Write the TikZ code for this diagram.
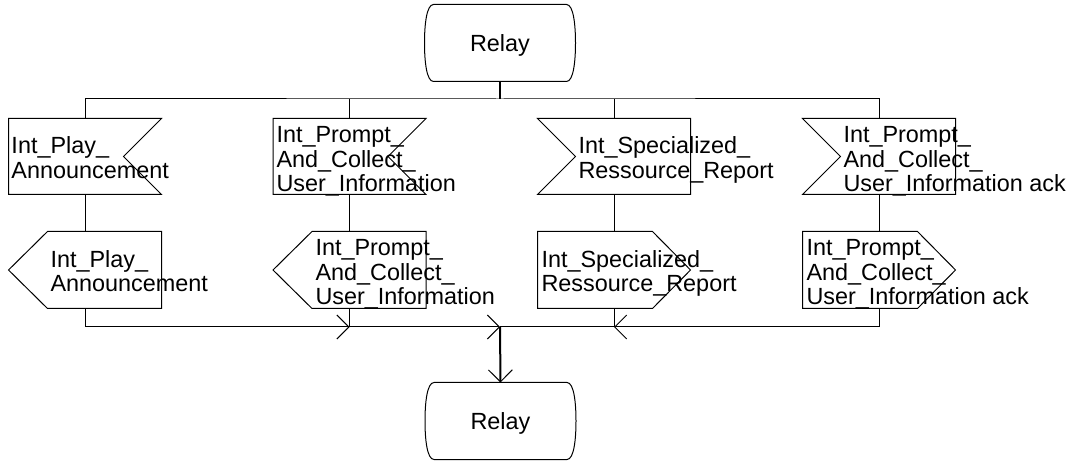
\documentclass[tikz,border=0pt]{standalone}
\usepackage{fontspec}
\setmainfont{Liberation Sans}
\usetikzlibrary{arrows.meta,calc}
\newcommand\sigfont{\fontsize{23.4pt}{24.5pt}\selectfont}
\newcommand\relayoutline[1]{%
  \draw ([xshift=9pt]#1.north west) -- ([xshift=-9pt]#1.north east)
    .. controls ([xshift=-2pt]#1.north east) and ([yshift=18pt]#1.east) .. (#1.east)
    .. controls ([yshift=-18pt]#1.east) and ([xshift=-2pt]#1.south east) .. ([xshift=-9pt]#1.south east)
    -- ([xshift=9pt]#1.south west)
    .. controls ([xshift=2pt]#1.south west) and ([yshift=-18pt]#1.west) .. (#1.west)
    .. controls ([yshift=18pt]#1.west) and ([xshift=2pt]#1.north west) .. ([xshift=9pt]#1.north west)
    -- cycle;}
\newcommand\notchright[1]{\draw (#1.north west) -- (#1.north east) -- ([xshift=-38pt]#1.east) -- (#1.south east) -- (#1.south west) -- cycle;}
\newcommand\notchleft[1]{\draw (#1.north west) -- (#1.north east) -- (#1.south east) -- (#1.south west) -- ([xshift=38pt]#1.west) -- cycle;}
\newcommand\pointleft[1]{\draw ([xshift=39pt]#1.north west) -- (#1.north east) -- (#1.south east) -- ([xshift=39pt]#1.south west) -- (#1.west) -- cycle;}
\newcommand\pointright[1]{\draw (#1.north west) -- ([xshift=-38pt]#1.north east) -- (#1.east) -- ([xshift=-38pt]#1.south east) -- (#1.south west) -- cycle;}
\begin{document}
\begin{tikzpicture}[x=1pt,y=-1pt, line width=1pt,
  sigbox/.style={draw=none, rectangle, inner sep=0pt, minimum width=152pt},
  inbox/.style={sigbox, minimum height=75pt},
  outbox/.style={sigbox, minimum height=76pt},
  relaybox/.style={draw=none, rectangle, inner sep=0pt, minimum width=150pt, minimum height=76pt},
  lbl/.style={anchor=base west, inner sep=0pt, align=left, font=\sigfont},
  rlbl/.style={anchor=base, inner sep=0pt, font=\sigfont},
  tip/.style={-{Straight Barb[length=12pt,width=24pt,line width=1pt]}},
  thickline/.style={line width=2pt}
]
\useasboundingbox (0,0) rectangle (1077,462);

% relays
\node[relaybox] (r1) at (500,43) {};
\node[relaybox] (r2) at (500.5,421) {};
\relayoutline{r1}
\relayoutline{r2}
\node[rlbl] (r1t) at ($(r1.center)+(0,8.5)$) {Relay};
\node[rlbl] (r2t) at ($(r2.center)+(0,8.5)$) {Relay};

% input signals
\node[inbox] (in1) at (85,156.5) {};
\node[inbox] (in2) at (349.5,156.5) {};
\node[inbox] (in3) at (614,156.5) {};
\node[inbox] (in4) at (879,156.5) {};
\notchright{in1}
\notchright{in2}
\notchleft{in3}
\notchleft{in4}

% output signals
\node[outbox] (out1) at (85,270) {};
\node[outbox] (out2) at (349.5,270) {};
\node[outbox] (out3) at (614,270) {};
\node[outbox] (out4) at (879,270) {};
\pointleft{out1}
\pointleft{out2}
\pointright{out3}
\pointright{out4}

% labels (anchored at the baseline of their last line)
\node[lbl] (t1) at (11,178.5) {Int\_Play\_\\Announcement};
\node[lbl] (t2) at (276,192) {Int\_Prompt\_\\And\_Collect\_\\User\_Information};
\node[lbl] (t3) at (578,178.5) {Int\_Specialized\_\\Ressource\_Report};
\node[lbl] (t4) at (843,192) {Int\_Prompt\_\\And\_Collect\_\\User\_Information ack};
\node[lbl] (u1) at (50,292) {Int\_Play\_\\Announcement};
\node[lbl] (u2) at (315,305) {Int\_Prompt\_\\And\_Collect\_\\User\_Information};
\node[lbl] (u3) at (541,292) {Int\_Specialized\_\\Ressource\_Report};
\node[lbl] (u4) at (806,305) {Int\_Prompt\_\\And\_Collect\_\\User\_Information ack};

% connectors
\coordinate (topbus) at (500,99);
\coordinate (botbus) at (500,327);
\draw[thickline] (r1.south) -- (topbus);
\draw (in1.north) |- (topbus) -| (in4.north);
\draw (in2.north) -- (in2.north |- topbus);
\draw (in3.north) -- (in3.north |- topbus);
\draw (in1.south) -- (out1.north);
\draw (in2.south) -- (out2.north);
\draw (in3.south) -- (out3.north);
\draw (in4.south) -- (out4.north);
\draw[tip] (out1.south) |- (out2.south |- botbus);
\draw (out2.south) -- (out2.south |- botbus);
\draw[tip] (out2.south |- botbus) -- (botbus);
\draw[tip] (out4.south) |- (out3.south |- botbus);
\draw (out3.south) -- (out3.south |- botbus);
\draw (out3.south |- botbus) -- (botbus);
\draw[thickline,tip] (botbus) -- (r2.north);
\end{tikzpicture}
\end{document}
